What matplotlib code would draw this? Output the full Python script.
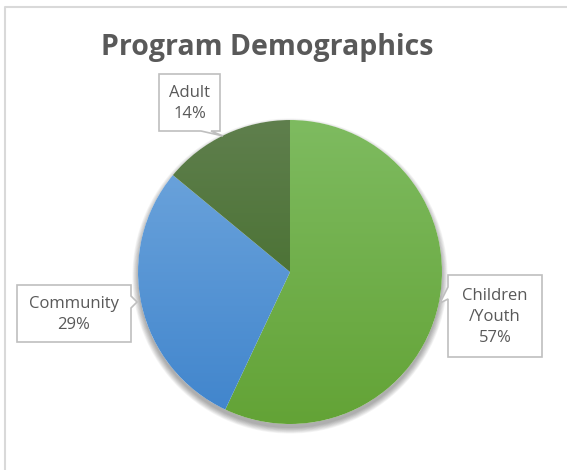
import numpy as np
import matplotlib.pyplot as plt
from matplotlib.patches import Polygon, Circle
from matplotlib.colors import LinearSegmentedColormap

W, H = 567, 470

groups = ['Children\n/Youth', 'Community', 'Adult']
shares = [57, 29, 14]
top_colors = ['#7ebb60', '#72a8de', '#5f7f4d']
bot_colors = ['#63a336', '#3f84cc', '#3b6820']

title = 'Program Demographics'
TEXT = '#595959'
FONT = 'Open Sans'


def py(y):
    # pixel rows from the top -> data y
    return H - y


cx, cy, r = 290, py(272), 152

fig = plt.figure(figsize=(W / 100, H / 100), dpi=100)
ax = fig.add_axes([0, 0, 1, 1])

# soft drop shadow under the pie
for i in range(9):
    ax.add_patch(Circle((cx, cy - 4), r + i * 0.7, color='black',
                        alpha=0.04, lw=0, zorder=1))
ax.add_patch(Circle((cx, cy), r, color='white', lw=0, zorder=1.5))

wedges, _ = ax.pie(shares, startangle=90, counterclock=False,
                   center=(cx, cy), radius=r, frame=True,
                   wedgeprops=dict(linewidth=0))

grad = np.linspace(0, 1, 256).reshape(-1, 1)
for w, c1, c2 in zip(wedges, top_colors, bot_colors):
    w.set_zorder(2)
    w.set_alpha(0)
    cmap = LinearSegmentedColormap.from_list('g', [c1, c2])
    im = ax.imshow(grad, cmap=cmap, aspect='auto', origin='upper',
                   extent=(cx - r, cx + r, cy - r, cy + r), zorder=3,
                   interpolation='bilinear')
    im.set_clip_path(w)

# callout boxes in pixel coords from the top
boxes = [
    dict(box=(448, 275, 542, 357), side='left', tip=(440, 303)),
    dict(box=(17, 285, 131, 342), side='right', tip=(137, 302)),
    dict(box=(159, 74, 220, 131), side='bottom', tip=(223, 136)),
]


def callout(x0, y0, x1, y1, side, tip, p):
    a, b = p
    if side == 'left':
        pts = [(x0, y0), (x1, y0), (x1, y1), (x0, y1), (x0, b), tip, (x0, a)]
    elif side == 'right':
        pts = [(x0, y0), (x1, y0), (x1, a), tip, (x1, b), (x1, y1), (x0, y1)]
    else:
        pts = [(x0, y0), (x1, y0), (x1, y1), (b, y1), tip, (a, y1), (x0, y1)]
    return [(x, py(y)) for x, y in pts]


for g, s, spec in zip(groups, shares, boxes):
    x0, y0, x1, y1 = spec['box']
    side = spec['side']
    if side == 'left':
        p = (y0 + 12, y0 + 24)
    elif side == 'right':
        p = (y0 + 11, y0 + 23)
    else:
        p = (x1 - 19, x1 - 9)
    ax.add_patch(Polygon(callout(x0, y0, x1, y1, side, spec['tip'], p),
                         closed=True, facecolor='white', edgecolor='#bfbfbf',
                         lw=1.2, zorder=5))
    ax.text((x0 + x1) / 2, py((y0 + y1) / 2 + 1), f'{g}\n{s}%', ha='center',
            va='center', fontsize=12, color=TEXT, family=FONT,
            linespacing=1.45, zorder=6)

ax.text(W / 2 - 16, py(48), title, ha='center', va='center', fontsize=20.5,
        fontweight='bold', color=TEXT, family=FONT)

# chart area border (top and left edges visible)
ax.plot([5, 5, W], [0, py(6.5), py(6.5)], color='#d9d9d9', lw=1.5,
        zorder=7, solid_capstyle='butt')

ax.set_xlim(0, W)
ax.set_ylim(0, H)
ax.set_aspect('auto')
ax.axis('off')

fig.savefig('out.png', dpi=100)
